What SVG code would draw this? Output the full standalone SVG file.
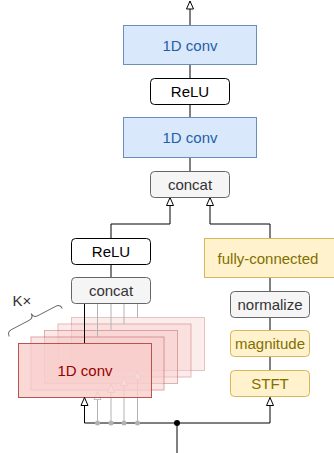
<svg xmlns="http://www.w3.org/2000/svg" width="334" height="453" viewBox="0 0 334 453">
<style>
text{font-family:"Liberation Sans",Arial,sans-serif;font-size:15px;text-anchor:middle;dominant-baseline:central}
.blue{fill:#dae8fc;stroke:#6c8ebf}
.blue-t{fill:#1f5fa6}
.white{fill:#ffffff;stroke:#000000}
.grey{fill:#f5f5f5;stroke:#666666}
.grey-t{fill:#333333}
.yellow{fill:#fff2cc;stroke:#d6b656}
.yellow-t{fill:#807000}
.pink{fill:#f8cecc;stroke:#b85450}
.edge{fill:none;stroke:#000000;stroke-width:1}
.gedge{fill:none;stroke:#b3b3b3;stroke-width:1}
</style>
<defs>
<marker id="arr" markerUnits="userSpaceOnUse" markerWidth="12" markerHeight="10" refX="9" refY="5" orient="auto">
<path d="M1,1.5 L9,5 L1,8.5 Z" fill="#ffffff" stroke="#000000" stroke-width="1"/>
</marker>
<marker id="garr" markerUnits="userSpaceOnUse" markerWidth="12" markerHeight="10" refX="9" refY="5" orient="auto">
<path d="M1,1.5 L9,5 L1,8.5 Z" fill="#ffffff" stroke="#c0c0c0" stroke-width="1"/>
</marker>
</defs>

<g id="stack">
<rect x="71.5" y="317.5" width="133" height="53" class="pink" opacity="0.35"/>
<rect x="58" y="324" width="133" height="53" class="pink" opacity="0.4"/>
<rect x="44.5" y="330.5" width="133" height="53" class="pink" opacity="0.45"/>
<rect x="31" y="337" width="133" height="53" class="pink" opacity="0.5"/>
</g>

<g id="connectors">
<path class="edge" d="M190,25 L190,1" marker-end="url(#arr)"/>
<path class="edge" d="M190,64 L190,78"/>
<path class="edge" d="M190,104 L190,117"/>
<path class="edge" d="M190,157 L190,171"/>
<path class="edge" d="M111,238 L111,224 L170,224 L170,197.5" marker-end="url(#arr)"/>
<path class="edge" d="M270,238 L270,224 L210,224 L210,197.5" marker-end="url(#arr)"/>
<path class="edge" d="M111,264 L111,277"/>
<path class="edge" d="M270,277 L270,291"/>
<path class="edge" d="M270,317 L270,330"/>
<path class="edge" d="M270,357 L270,370"/>
<path class="edge" d="M84.5,304 L84.5,343"/>
<path class="gedge" d="M97.5,304 L97.5,337"/>
<path class="gedge" d="M111,304 L111,330.5"/>
<path class="gedge" d="M124,304 L124,324"/>
<path class="gedge" d="M137.5,304 L137.5,317.5"/>
<path class="gedge" d="M97.5,423 L97.5,391.5" marker-end="url(#garr)"/>
<path class="gedge" d="M111,423 L111,384.5" marker-end="url(#garr)"/>
<path class="gedge" d="M124,423 L124,377.5" marker-end="url(#garr)"/>
<path class="gedge" d="M137.5,423 L137.5,371" marker-end="url(#garr)"/>
<path class="edge" d="M177,423 L270,423 L270,397.5" marker-end="url(#arr)"/>
<path class="edge" d="M177,453 L177,423"/>
</g>

<g id="conv_top">
<rect x="123.5" y="25.5" width="133" height="39" class="blue"/>
<text x="190" y="45" class="blue-t">1D conv</text>
</g>
<g id="relu_top">
<rect x="150.5" y="78.5" width="79" height="26" rx="4" class="white"/>
<text x="190" y="91.5">ReLU</text>
</g>
<g id="conv_mid">
<rect x="123.5" y="117.5" width="133" height="40" class="blue"/>
<text x="190" y="137.5" class="blue-t">1D conv</text>
</g>
<g id="concat_top">
<rect x="150.5" y="171.5" width="79" height="26" rx="4" class="grey"/>
<text x="190" y="184.5" class="grey-t">concat</text>
</g>
<g id="relu_low">
<rect x="71.5" y="238.5" width="79" height="26" rx="4" class="white"/>
<text x="111" y="251.5">ReLU</text>
</g>
<g id="concat_low">
<rect x="71.5" y="277.5" width="79" height="26" rx="4" class="grey"/>
<text x="111" y="290.5" class="grey-t">concat</text>
</g>
<g id="conv_main">
<rect x="18.5" y="343.5" width="133" height="54" class="pink" fill-opacity="0.8"/>
<text x="85" y="370.5" fill="#990000">1D conv</text>
</g>
<g id="inputs">
<path class="edge" d="M177,423 L84.5,423 L84.5,397.5" marker-end="url(#arr)"/>
<circle cx="97.5" cy="423" r="2.5" fill="#b3b3b3"/>
<circle cx="111" cy="423" r="2.5" fill="#b3b3b3"/>
<circle cx="124" cy="423" r="2.5" fill="#b3b3b3"/>
<circle cx="137.5" cy="423" r="2.5" fill="#b3b3b3"/>
<circle cx="177" cy="423" r="3" fill="#000000"/>
</g>
<g id="fc">
<rect x="204.5" y="238.5" width="132" height="39" class="yellow"/>
<text x="268" y="258" class="yellow-t">fully-connected</text>
</g>
<g id="normalize">
<rect x="230.5" y="291.5" width="79" height="26" rx="4" class="grey"/>
<text x="270" y="304.5" class="grey-t">normalize</text>
</g>
<g id="magnitude">
<rect x="230.5" y="330.5" width="79" height="26" rx="4" class="yellow"/>
<text x="270" y="343.5" class="yellow-t">magnitude</text>
</g>
<g id="stft">
<rect x="230.5" y="370.5" width="79" height="26" rx="4" class="yellow"/>
<text x="270" y="383.5" class="yellow-t">STFT</text>
</g>
<g id="kx">
<text x="22" y="300" fill="#333333">K×</text>
<path d="M-30,5 Q-30,0 -25,0 L-5,0 Q0,0 0,-5 Q0,0 5,0 L25,0 Q30,0 30,5" transform="translate(33.5,318) rotate(-27.8)" fill="none" stroke="#666666" stroke-width="1"/>
</g>
</svg>
